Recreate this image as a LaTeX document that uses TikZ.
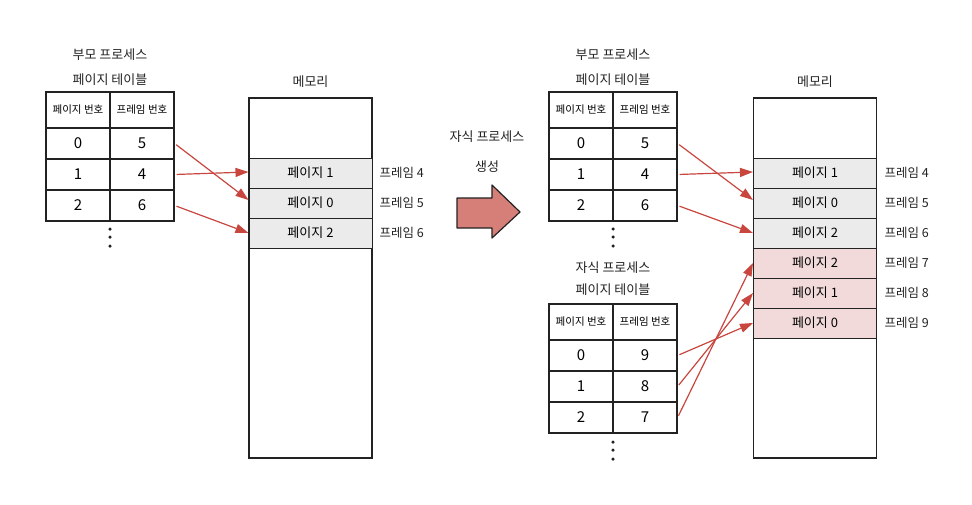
\documentclass[tikz,border=0pt]{standalone}
\usepackage{fontspec}
\setmainfont{Noto Sans CJK KR}
\usetikzlibrary{arrows.meta}
\definecolor{arr}{HTML}{C8463E}
\definecolor{bigarr}{HTML}{D67F78}
\definecolor{framegray}{HTML}{EBEBEB}
\definecolor{framepink}{HTML}{F3DADA}
\definecolor{ink}{HTML}{222222}
\tikzset{
  cell/.style={draw=ink,line width=1.2pt,minimum width=64pt,minimum height=31pt,inner sep=0pt,font=\fontsize{15}{15}\selectfont},
  headcell/.style={cell,minimum height=36pt,font=\fontsize{10.5}{11}\selectfont},
  title/.style={font=\fontsize{13}{14}\selectfont,text=ink},
  mem/.style={draw=ink,line width=1.2pt,minimum width=123pt,minimum height=360pt,inner sep=0pt},
  fr/.style={draw=ink,line width=1pt,minimum width=123pt,minimum height=30pt,inner sep=0pt,fill=framegray,font=\fontsize{13}{14}\selectfont},
  frp/.style={fr,fill=framepink},
  flabel/.style={anchor=west,font=\fontsize{12.5}{13}\selectfont,text=ink},
  conn/.style={draw=arr,line width=1.2pt,-{Triangle[length=13pt,width=9pt]},shorten <=2pt},
  dot/.style={circle,fill=ink,inner sep=0pt,minimum size=3.5pt}
}
\begin{document}
\begin{tikzpicture}[x=1pt,y=-1pt]
\useasboundingbox (0,0) rectangle (972,504);

% ---------- left parent table ----------
\node[title] (lt1) at (110,55) {부모 프로세스};
\node[title] (lt2) at (110,80) {페이지 테이블};
\node[headcell] (lh1) at (78,110) {페이지 번호};
\node[headcell] (lh2) at (142,110) {프레임 번호};
\node[cell] (la0) at (78,143.5) {0};
\node[cell] (lb0) at (142,143.5) {5};
\node[cell] (la1) at (78,174.5) {1};
\node[cell] (lb1) at (142,174.5) {4};
\node[cell] (la2) at (78,205.5) {2};
\node[cell] (lb2) at (142,205.5) {6};
\node[dot] (ld1) at (110,229) {};
\node[dot] (ld2) at (110,237) {};
\node[dot] (ld3) at (110,246) {};

% ---------- left memory ----------
\node[title] (lmt) at (310.5,82) {메모리};
\node[mem] (lm) at (310.5,278) {};
\node[fr] (lf4) at (310.5,173) {페이지 1};
\node[fr] (lf5) at (310.5,203) {페이지 0};
\node[fr] (lf6) at (310.5,233) {페이지 2};
\node[flabel] (ll4) at (376,173) {프레임 4};
\node[flabel] (ll5) at (376,203) {프레임 5};
\node[flabel] (ll6) at (376,233) {프레임 6};

\draw[conn] (lb0.east) -- ([yshift=3pt]lf5.west);
\draw[conn] (lb1.east) -- ([yshift=1pt]lf4.west);
\draw[conn] (lb2.east) -- (lf6.west);

% ---------- big arrow ----------
\node[title] (bt1) at (487,137) {자식 프로세스};
\node[title] (bt2) at (487,167) {생성};
\draw[fill=bigarr,draw=ink,line width=1.2pt,line join=round]
  (457,198) -- (492,198) -- (492,185) -- (520,212) -- (492,238) -- (492,228) -- (457,228) -- cycle;

% ---------- right parent table ----------
\node[title] (rt1) at (613,55) {부모 프로세스};
\node[title] (rt2) at (613,80) {페이지 테이블};
\node[headcell] (rh1) at (581,110) {페이지 번호};
\node[headcell] (rh2) at (645,110) {프레임 번호};
\node[cell] (ra0) at (581,143.5) {0};
\node[cell] (rb0) at (645,143.5) {5};
\node[cell] (ra1) at (581,174.5) {1};
\node[cell] (rb1) at (645,174.5) {4};
\node[cell] (ra2) at (581,205.5) {2};
\node[cell] (rb2) at (645,205.5) {6};
\node[dot] (rd1) at (613,229) {};
\node[dot] (rd2) at (613,237) {};
\node[dot] (rd3) at (613,246) {};

% ---------- child table ----------
\node[title] (ct1) at (613,268) {자식 프로세스};
\node[title] (ct2) at (613,290) {페이지 테이블};
\node[headcell] (ch1) at (581,322) {페이지 번호};
\node[headcell] (ch2) at (645,322) {프레임 번호};
\node[cell] (ca0) at (581,355.5) {0};
\node[cell] (cb0) at (645,355.5) {9};
\node[cell] (ca1) at (581,386.5) {1};
\node[cell] (cb1) at (645,386.5) {8};
\node[cell] (ca2) at (581,417.5) {2};
\node[cell] (cb2) at (645,417.5) {7};
\node[dot] (cd1) at (613,442) {};
\node[dot] (cd2) at (613,450) {};
\node[dot] (cd3) at (613,459) {};

% ---------- right memory ----------
\node[title] (rmt) at (815,82) {메모리};
\node[mem] (rm) at (815,278) {};
\node[fr] (rf4) at (815,173) {페이지 1};
\node[fr] (rf5) at (815,203) {페이지 0};
\node[fr] (rf6) at (815,233) {페이지 2};
\node[frp] (rf7) at (815,263) {페이지 2};
\node[frp] (rf8) at (815,293) {페이지 1};
\node[frp] (rf9) at (815,323) {페이지 0};
\node[flabel] (rl4) at (881,173) {프레임 4};
\node[flabel] (rl5) at (881,203) {프레임 5};
\node[flabel] (rl6) at (881,233) {프레임 6};
\node[flabel] (rl7) at (881,263) {프레임 7};
\node[flabel] (rl8) at (881,293) {프레임 8};
\node[flabel] (rl9) at (881,323) {프레임 9};

\draw[conn] (rb0.east) -- ([yshift=3pt]rf5.west);
\draw[conn] (rb1.east) -- ([yshift=1pt]rf4.west);
\draw[conn] (rb2.east) -- (rf6.west);
\draw[conn] (cb0.east) -- (rf9.west);
\draw[conn] (cb1.east) -- (rf8.west);
\draw[conn] (cb2.east) -- (rf7.west);
\end{tikzpicture}
\end{document}
